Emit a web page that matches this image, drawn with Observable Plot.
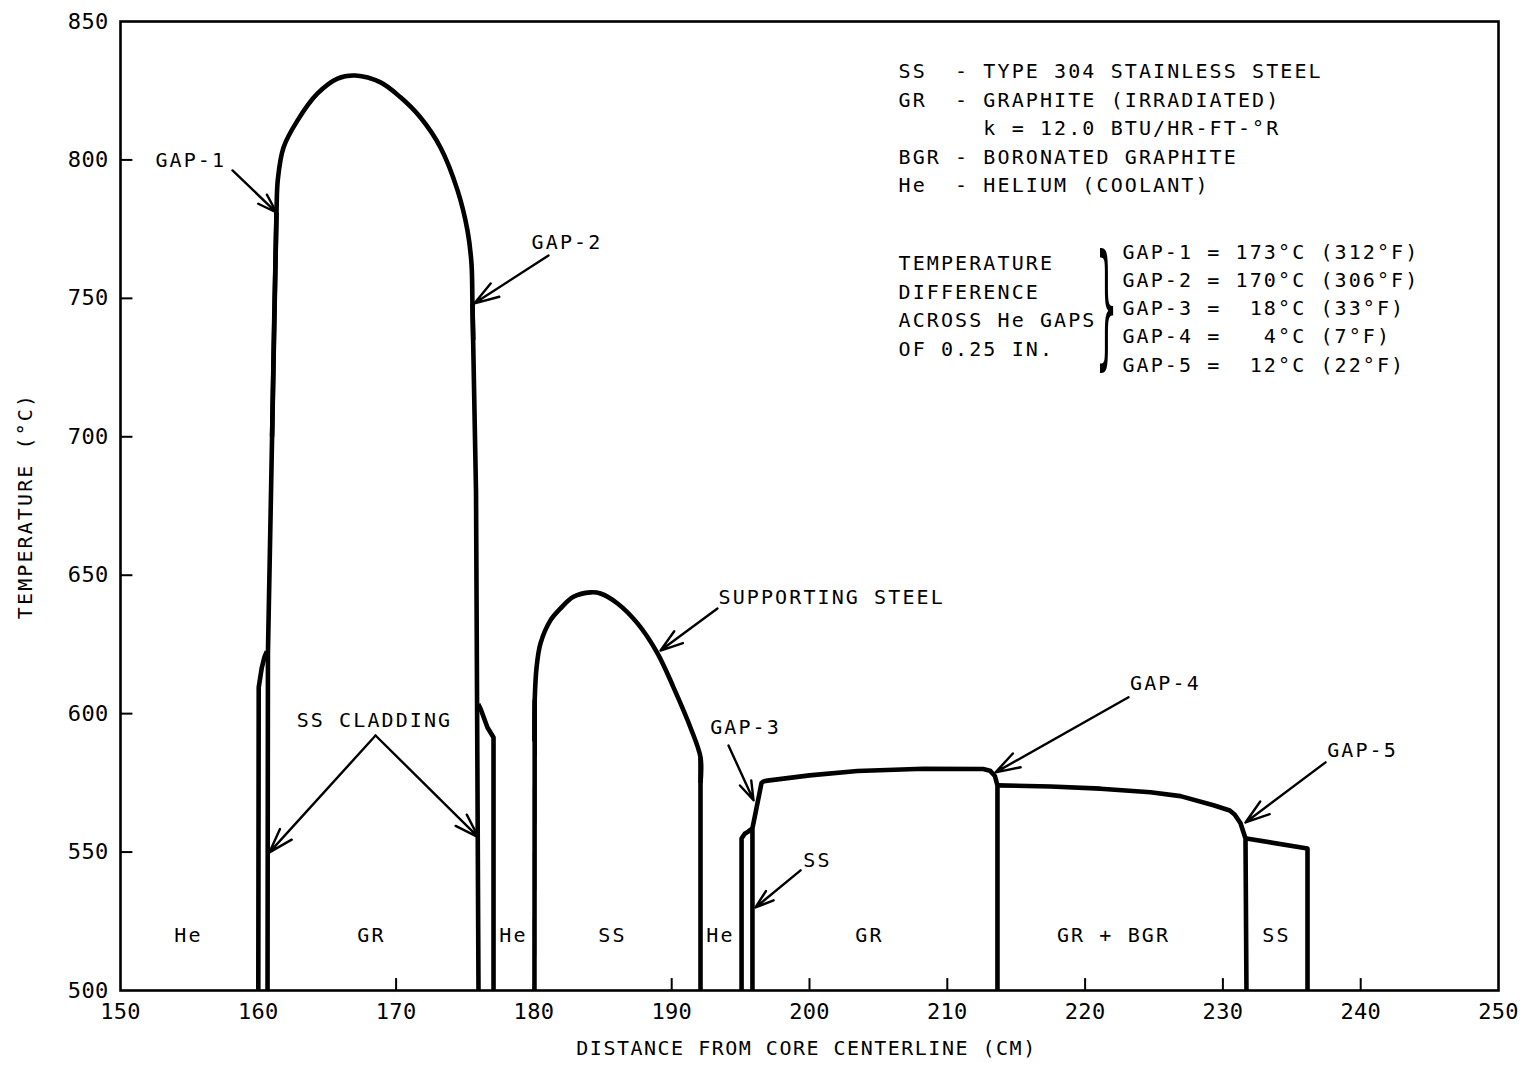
<!DOCTYPE html>
<html>
<head>
<meta charset="utf-8">
<script src="https://cdn.jsdelivr.net/npm/d3@7"></script>
<script src="https://cdn.jsdelivr.net/npm/@observablehq/plot@0.6"></script>
<style>
  html, body { margin: 0; padding: 0; background: #fff; }
  svg text { white-space: pre; letter-spacing: 2.1px; }
  svg g[aria-label*="tick label"] text { letter-spacing: 0.3px; }
</style>
</head>
<body>
<div id="chart"></div>
<script>
// ---- axis ticks ----
const xTicks = [150, 160, 170, 180, 190, 200, 210, 220, 230, 240, 250];
const yTicks = [500, 550, 600, 650, 700, 750, 800, 850];
const xTitle = "DISTANCE FROM CORE CENTERLINE (CM)";
const yTitle = "TEMPERATURE (°C)";

// ---- temperature profile pieces: [distance cm, temperature °C] ----
// straight pieces (interfaces, gap jumps, flat tops)
const claddingInner1 = [[160.0, 500], [160.03, 609.5], [160.25, 616.5], [160.45, 620.5], [160.62, 622.5]];
const graphite1Left = [[160.67, 500], [160.7, 622], [161.0, 700], [161.32, 781]];
const graphite1Right = [[175.54, 748.2], [175.8, 680], [175.98, 500]];
const claddingOuter1 = [[175.96, 603.5], [176.15, 601.5], [176.63, 595.0], [177.07, 591.4], [177.07, 500]];
const supportLeft = [[180.04, 500], [180.06, 605]];
const supportRight = [[192.09, 584.2], [192.09, 500]];
const claddingInner2 = [[195.07, 500], [195.07, 554.9], [195.3, 556.6], [195.55, 557.4], [195.86, 558.6]];
const graphite2 = [[195.86, 500], [195.86, 558.6], [196.52, 575.0], [196.7, 575.6], [196.95, 575.8],
  [200.0, 577.7], [203.48, 579.3], [208.27, 580.1], [212.6, 580.0], [213.1, 579.4], [213.45, 577.5],
  [213.64, 574.1], [213.64, 500]];
const graphiteBoron = [[213.64, 574.1], [217.49, 573.7], [221.12, 572.9], [224.75, 571.6],
  [226.92, 570.2], [229.32, 566.9], [230.5, 565.0], [230.85, 563.6], [231.28, 560.4], [231.64, 554.9], [231.71, 500]];
const steelOuter = [[231.71, 554.9], [236.14, 551.3], [236.14, 500]];
// smooth pieces (temperature domes)
const graphite1Dome = [[161.0, 700], [161.32, 781], [161.42, 793],
  [161.83, 804.5], [162.84, 814.2], [164.3, 824.0], [165.75, 829.4], [167.05, 830.5],
  [168.87, 828.0], [170.32, 822.6], [171.77, 815.3], [173.22, 804.5], [174.46, 789.0],
  [175.18, 774.5], [175.47, 762.6], [175.54, 748.2], [175.6, 735]];
const supportDome = [[180.04, 590], [180.06, 605], [180.2, 617], [180.48, 625.4], [181.2, 633.7], [181.93, 638.0],
  [182.87, 642.2], [184.11, 643.8], [184.83, 643.4], [186.07, 639.8], [187.52, 632.6],
  [188.97, 621.8], [190.13, 609.5], [191.36, 595.0], [192.09, 584.2], [192.09, 575]];

const straightPieces = [claddingInner1, graphite1Left, graphite1Right, claddingOuter1, supportLeft,
  supportRight, claddingInner2, graphite2, graphiteBoron, steelOuter];
const smoothPieces = [graphite1Dome, supportDome];
const toRows = pieces => pieces.flatMap((seg, k) => seg.map(([x, t]) => ({seg: k, x, t})));

// ---- material labels along the base ----
const regionNames = ["He", "GR", "He", "SS", "He", "GR", "GR + BGR", "SS"];
const regionX = [154.93, 168.21, 178.52, 185.7, 193.54, 204.35, 222.06, 233.89];
const regionT = 519.9;

// ---- callout labels ----
const calloutText = ["GAP-1", "GAP-2", "SS CLADDING", "GAP-3", "SS", "GAP-4", "GAP-5"];
const calloutX = [155.1, 182.4, 168.43, 195.36, 200.58, 225.83, 240.13];
const calloutT = [799.8, 770.2, 597.6, 595.0, 547.0, 610.9, 586.7];
const supportLabel = ["SUPPORTING STEEL"];
const supportLabelX = 193.4, supportLabelT = 641.9;

// ---- callout arrows: tail [x, t] and head [x, t] ----
const arrowsFrom = [[158.13, 796.2], [181.06, 765.5], [193.32, 638.0], [168.51, 592.1], [168.51, 592.1],
  [194.12, 588.5], [199.35, 543.4], [223.15, 605.9], [237.45, 582.4]];
const arrowsTo = [[161.32, 781.0], [175.69, 748.2], [189.19, 622.8], [160.81, 549.9], [175.98, 555.3],
  [195.94, 568.7], [196.08, 530.0], [213.5, 578.8], [231.64, 560.7]];
const arrows = arrowsFrom.map((a, i) => ({x1: a[0], y1: a[1], x2: arrowsTo[i][0], y2: arrowsTo[i][1]}));

// ---- key text ----
const keyLines = [
  "SS  - TYPE 304 STAINLESS STEEL",
  "GR  - GRAPHITE (IRRADIATED)",
  "      k = 12.0 BTU/HR-FT-°R",
  "BGR - BORONATED GRAPHITE",
  "He  - HELIUM (COOLANT)"
];
const diffLines = ["TEMPERATURE", "DIFFERENCE", "ACROSS He GAPS", "OF 0.25 IN."];
const gapLines = [
  "GAP-1 = 173°C (312°F)",
  "GAP-2 = 170°C (306°F)",
  "GAP-3 =  18°C (33°F)",
  "GAP-4 =   4°C (7°F)",
  "GAP-5 =  12°C (22°F)"
];
const keyX = 206.46, keyT = 836.7;
const diffX = 206.46, diffT = 767.5;
const gapX = 222.71, gapT = 771.5;
const braceX = 221.55, braceT = 746.7;

const font = "'DejaVu Sans Mono', monospace";

const chart = Plot.plot({
  width: 1531,
  height: 1066,
  marginLeft: 120,
  marginRight: 33,
  marginTop: 21,
  marginBottom: 76,
  style: {fontFamily: font, fontSize: "20px", color: "#000", background: "#fff"},
  x: {domain: [150, 250], label: null},
  y: {domain: [500, 850], label: null},
  marks: [
    Plot.frame({stroke: "#000", strokeWidth: 2.6}),
    // inward ticks
    Plot.ruleX(xTicks.slice(1, -1), {y1: 500, y2: 504.3, stroke: "#000", strokeWidth: 2}),
    Plot.ruleY(yTicks.slice(1, -1), {x1: 150, x2: 150.9, stroke: "#000", strokeWidth: 2}),
    Plot.axisX(xTicks, {tickSize: 0, tickPadding: 13, fontSize: 22, label: null}),
    Plot.axisY(yTicks, {tickSize: 0, tickPadding: 12, fontSize: 22, label: null}),
    Plot.text([xTitle], {frameAnchor: "bottom", dy: 64, dx: -3, fontSize: 20}),
    Plot.text([yTitle], {frameAnchor: "left", dx: -95, rotate: -90, textAnchor: "middle", fontSize: 20}),
    // profile
    Plot.line(toRows(straightPieces), {x: "x", y: "t", z: "seg", stroke: "#000", strokeWidth: 4.6,
      curve: "linear", strokeLinejoin: "round", strokeLinecap: "butt"}),
    Plot.line(toRows(smoothPieces), {x: "x", y: "t", z: "seg", stroke: "#000", strokeWidth: 4.6,
      curve: "catmull-rom", strokeLinejoin: "round", strokeLinecap: "butt"}),
    // labels
    Plot.text(regionNames, {x: regionX, y: () => regionT, text: d => d, fontSize: 20}),
    Plot.text(calloutText, {x: calloutX, y: calloutT, text: d => d, fontSize: 20}),
    Plot.text(supportLabel, {x: () => supportLabelX, y: () => supportLabelT, text: d => d, textAnchor: "start", fontSize: 20}),
    Plot.arrow(arrows, {x1: "x1", y1: "y1", x2: "x2", y2: "y2", stroke: "#000", strokeWidth: 2.4,
      headLength: 16, headAngle: 36}),
    // key
    Plot.text([keyLines.join("\n")], {x: () => keyX, y: () => keyT, text: d => d, textAnchor: "start",
      lineAnchor: "top", lineHeight: 1.42, fontSize: 20}),
    Plot.text([diffLines.join("\n")], {x: () => diffX, y: () => diffT, text: d => d, textAnchor: "start",
      lineAnchor: "top", lineHeight: 1.43, fontSize: 20}),
    Plot.text([gapLines.join("\n")], {x: () => gapX, y: () => gapT, text: d => d, textAnchor: "start",
      lineAnchor: "top", lineHeight: 1.41, fontSize: 20}),
    Plot.text(["}"], {x: () => braceX, y: () => braceT, text: d => d, fontSize: 40,
      fontFamily: "'DejaVu Sans'"})
  ]
});

// the axis title's letter spacing is a little tighter than the key's
d3.select(chart).selectAll("text").filter(function () { return this.textContent === xTitle; })
  .style("letter-spacing", "1.5px");

// stretch the brace glyph vertically so it spans the five gap lines
d3.select(chart).selectAll("text").filter(function () { return this.textContent === "}"; })
  .style("letter-spacing", "0px")
  .each(function () {
    let t = this.getAttribute("transform");
    if (!t) {
      t = `translate(${this.getAttribute("x") || 0},${this.getAttribute("y") || 0})`;
      this.removeAttribute("x");
      this.removeAttribute("y");
    }
    this.setAttribute("transform", t + " scale(0.85,3.4)");
  });

document.getElementById("chart").appendChild(chart);
</script>
</body>
</html>
